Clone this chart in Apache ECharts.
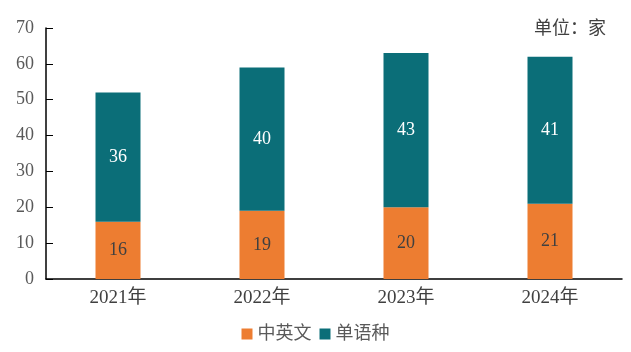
<!DOCTYPE html>
<html>
<head>
<meta charset="utf-8">
<script src="https://cdn.jsdelivr.net/npm/echarts@6/dist/echarts.min.js"></script>
<style>
  html, body { margin: 0; padding: 0; background: #fff; }
  #chart { width: 631px; height: 352px; }
</style>
</head>
<body>
<div id="chart"></div>
<script>
const years = ['2021年', '2022年', '2023年', '2024年']
const bilingual = [16, 19, 20, 21]
const single = [36, 40, 43, 41]
const yTicks = [0, 10, 20, 30, 40, 50, 60, 70]

const font = '"Liberation Serif", "Noto Sans CJK SC", serif'
const myChart = echarts.init(document.getElementById('chart'))
const option = {
  animation: false,
  color: ['#ED7D31', '#0B6E78'],
  textStyle: { fontFamily: font },
  title: {
    text: '单位：家',
    right: 20,
    top: 15,
    textStyle: { fontFamily: font, fontSize: 18, fontWeight: 'normal', color: '#404040' }
  },
  legend: {
    bottom: 4,
    left: 'center',
    itemWidth: 11,
    itemHeight: 11,
    itemGap: 8,
    icon: 'rect',
    textStyle: { fontFamily: font, fontSize: 18, color: '#595959' },
    data: ['中英文', '单语种']
  },
  grid: { left: 46, right: 9, top: 28, bottom: 73 },
  xAxis: {
    type: 'category',
    data: years,
    axisLine: { lineStyle: { color: '#000', width: 1.5 } },
    axisTick: { inside: true, length: 7, lineStyle: { color: '#000' } },
    axisLabel: { fontSize: 19, color: '#404040', margin: 10, fontFamily: font }
  },
  yAxis: {
    type: 'value',
    min: yTicks[0],
    max: yTicks[yTicks.length - 1],
    interval: 10,
    axisLine: { show: true, lineStyle: { color: '#000', width: 1.5 } },
    axisTick: { show: true, inside: true, length: 7, lineStyle: { color: '#000' } },
    splitLine: { show: false },
    axisLabel: { fontSize: 18, color: '#595959', margin: 12, fontFamily: font }
  },
  series: [
    {
      name: '中英文',
      type: 'bar',
      stack: 'total',
      barWidth: 45,
      data: bilingual,
      label: { show: true, position: 'inside', fontSize: 18, color: '#404040', fontFamily: font }
    },
    {
      name: '单语种',
      type: 'bar',
      stack: 'total',
      barWidth: 45,
      data: single,
      label: { show: true, position: 'inside', fontSize: 18, color: '#fff', fontFamily: font }
    }
  ]
}
myChart.setOption(option)
</script>
</body>
</html>
